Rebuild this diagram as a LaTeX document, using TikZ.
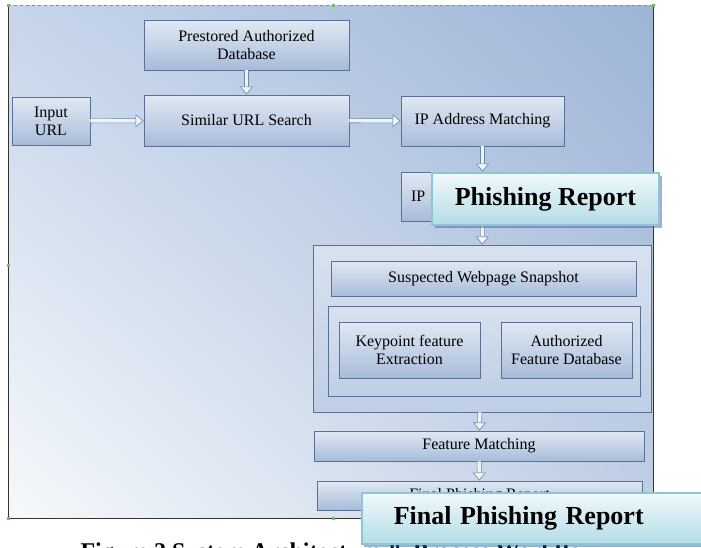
\documentclass[tikz,border=0pt]{standalone}
\usepackage{fontspec}
\setmainfont{Liberation Serif}
\usetikzlibrary{positioning,shadows,shadings,arrows.meta}
\definecolor{boxline}{HTML}{5A7096}
\definecolor{boxtop}{HTML}{E0E8F3}
\definecolor{boxmid}{HTML}{C5D3E7}
\definecolor{boxbot}{HTML}{A7BBD8}
\definecolor{arrowline}{HTML}{6D86AB}
\definecolor{reportline}{HTML}{8CC6D6}
\definecolor{reporttop}{HTML}{F0F9FB}
\definecolor{reportbot}{HTML}{B4DCE7}
\definecolor{canvasUL}{HTML}{C6D5EA}
\definecolor{canvasUR}{HTML}{9DB4D6}
\definecolor{canvasLL}{HTML}{F6F9FC}
\definecolor{canvasLR}{HTML}{C0CFE5}
\tikzset{
  box/.style={rectangle, draw=boxline, line width=0.9pt, top color=boxtop, bottom color=boxbot, middle color=boxmid, align=center, inner sep=2pt, font=\fontsize{16}{18}\selectfont},
  panel/.style={rectangle, draw=boxline, line width=0.9pt, top color=boxtop!70!boxmid, bottom color=boxmid!80!boxbot},
  report/.style={rectangle, draw=reportline, line width=1.5pt, top color=reporttop, bottom color=reportbot, font=\bfseries\fontsize{26}{28}\selectfont, drop shadow={shadow xshift=2.5pt, shadow yshift=-2.5pt, fill=gray!70!blue}},
  flowArrow/.style={draw=arrowline, line width=0.6pt, double=white!75!boxmid, double distance=3.5pt, -{Triangle[open, length=8pt, width=13pt, fill=white!75!boxmid]}}
}

\begin{document}
\begin{tikzpicture}[x=1pt, y=-1pt]
      \path[use as bounding box, clip] (0,0) rectangle (701,547);
      \fill[white] (0,0) rectangle (701,547);

      % canvas
      \shade[upper left=canvasUL, upper right=canvasUR, lower left=canvasLL, lower right=canvasLR] (8,5) rectangle (653,518);
      \draw[gray!40!black, line width=0.8pt] (8,5) -- (8,518) -- (653,518) -- (653,5);
      \draw[green!60!black!70, dashed, line width=0.8pt] (8,5) -- (653,5);
      \foreach \hx/\hy in {8/5, 333/5, 653/5, 8/265, 333/518, 8/518}
        \fill[green!60!black!60] (\hx-1.5,\hy-1.5) rectangle (\hx+1.5,\hy+1.5);

      \node[box, minimum width=205pt, minimum height=50pt] (prestored) at (246.5,45) {Prestored Authorized\\Database};
      \node[box, minimum width=78pt, minimum height=48pt] (input) at (51,121) {Input\\URL};
      \node[box, minimum width=205pt, minimum height=51pt] (search) at (246.5,120.5) {Similar URL Search};
      \node[box, minimum width=163pt, minimum height=50pt] (ipaddr) at (482.5,121) {IP Address Matching};
      \node[box, minimum width=163pt, minimum height=49pt, text width=143pt, align=left] (ipnext) at (482.5,196.5) {IP};

      \node[panel, minimum width=338pt, minimum height=167pt] (analysis) at (482,328.5) {};
      \node[box, minimum width=305pt, minimum height=35pt] (snapshot) at (483.5,278.5) {Suspected Webpage Snapshot};
      \node[panel, minimum width=312pt, minimum height=90pt] (features) at (484,351) {};
      \node[box, minimum width=141pt, minimum height=56pt] (keypoint) at (409.5,350) {Keypoint feature\\Extraction};
      \node[box, minimum width=131pt, minimum height=56pt] (authdb) at (566.5,350) {Authorized\\Feature Database};

      \node[box, minimum width=330pt, minimum height=30pt] (matching) at (479,446) {Feature Matching};
      \node[box, minimum width=325pt, minimum height=29pt] (final) at (479.5,495.5) {Final Phishing Report};

      \draw[flowArrow] (prestored) -- (search);
      \draw[flowArrow] (input) -- (search);
      \draw[flowArrow] (search) -- (ipaddr);
      \draw[flowArrow] (ipaddr) -- (ipnext);
      \draw[flowArrow] (ipnext) -- (analysis);
      \draw[flowArrow] (analysis) -- (matching);
      \draw[flowArrow] (matching) -- (final);

      \node[anchor=base west, font=\bfseries\fontsize{24}{26}\selectfont] (caption) at (77,559) {Figure 2 System Architecture \& Process Workflow};

      % overlaid labels
      \node[report, minimum width=227pt, minimum height=52pt] (phishing) at (545.5,199) {Phishing Report};
      \node[report, anchor=west, minimum height=51pt, inner xsep=32pt, text width=300pt, align=left] (finalreport) at (361,518.5) {Final Phishing Report};
\end{tikzpicture}
\end{document}
